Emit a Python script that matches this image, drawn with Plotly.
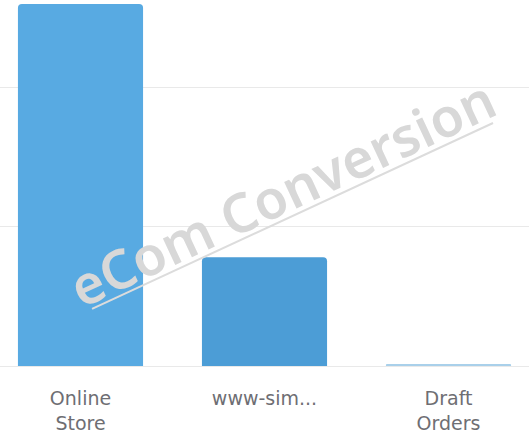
import plotly.graph_objs as go

# sales by channel (units of the gridline step)
channels = ["Online<br>Store", "www-sim...", "Draft<br>Orders"]
sales = [2.595, 0.78, 0.012]

bar_colors = ["#58aae2", "#4c9dd6", "#a9d0ea"]


def plot_data():
    bars = go.Bar(x=channels,
                  y=sales,
                  marker=dict(color=bar_colors, cornerradius=4, line=dict(width=0)),
                  width=0.68,
                  hoverinfo="skip")

    layout = go.Layout(
        width=529, height=436,
        margin=dict(l=0, r=0, t=0, b=70),
        plot_bgcolor="white", paper_bgcolor="white",
        showlegend=False,
        xaxis=dict(range=[-0.4375, 2.4375], showgrid=False, zeroline=False,
                   showline=False, ticks="", automargin=False,
                   tickfont=dict(family="DejaVu Sans", size=19, color="#6e6e73"),
                   ticklabelstandoff=19),
        yaxis=dict(range=[0, 2.624], dtick=1, showticklabels=False,
                   gridcolor="#e9e9e9", gridwidth=1,
                   zeroline=True, zerolinecolor="#e9e9e9", zerolinewidth=1),
        annotations=[dict(text="eCom Conversion", xref="paper", yref="paper",
                          x=0.533, y=0.475, showarrow=False, textangle=-25,
                          font=dict(family="Noto Sans", size=54, color="#d8d8d8", weight=600))],
        shapes=[dict(type="line", xref="paper", yref="paper",
                     x0=0.174, y0=0.156, x1=0.932, y1=0.664,
                     line=dict(color="#dcdcdc", width=2))],
    )
    return go.Figure(data=[bars], layout=layout)


if __name__ == "__main__":
    fig = plot_data()
    # drop the browser's default 8px body margin so the chart sits flush
    fig.write_html("out.html", config={"displayModeBar": False},
                   post_script="document.body.style.margin='0';")
